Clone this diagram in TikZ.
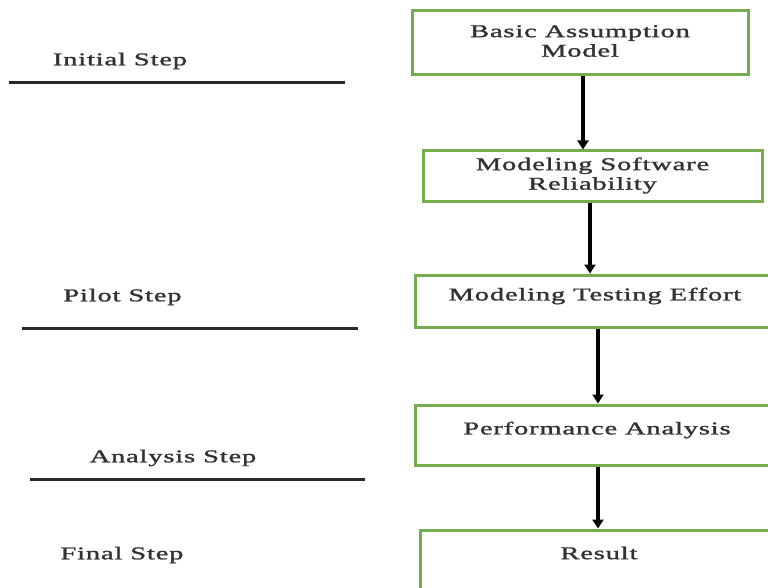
\documentclass[tikz,border=0pt]{standalone}
\usepackage{fontspec}
\usepackage{graphicx}
\setmainfont{Liberation Serif}[LetterSpace=3,FakeBold=1.2]
\usetikzlibrary{arrows.meta}
\definecolor{boxgreen}{RGB}{118,172,80}
\definecolor{txt}{RGB}{50,50,50}
\definecolor{rulecol}{RGB}{40,40,40}
\newcommand\wtext[1]{\scalebox{1.58}[1]{#1}}
\begin{document}
\begin{tikzpicture}[x=1pt,y=-1pt,
  box/.style={draw=boxgreen,line width=3pt,fill=white,inner sep=0pt},
  lbl/.style={text=txt,font=\fontsize{18}{19.5}\selectfont,align=center,inner sep=0pt},
  arr/.style={line width=3.6pt,-{Triangle[length=9pt,width=11pt]}},
  rulel/.style={line width=3pt,draw=rulecol}]
\useasboundingbox (0,0) rectangle (768,588);
\clip (0,0) rectangle (768,588);
\fill[white] (0,0) rectangle (768,588);
% boxes
\node[box,minimum width=336pt,minimum height=64pt] (b1) at (580,43) {};
\node[box,minimum width=339pt,minimum height=51pt] (b2) at (592.5,176.5) {};
\node[box,minimum width=365pt,minimum height=52pt] (b3) at (597.5,301) {};
\node[box,minimum width=365pt,minimum height=60pt] (b4) at (597.5,435) {};
\node[box,minimum width=360pt,minimum height=70pt] (b5) at (600,565) {};
% box texts
\node[lbl] (t1) at (580,43) {\wtext{\begin{tabular}{@{}c@{}}Basic Assumption\\Model\end{tabular}}};
\node[lbl] (t2) at (592.5,176) {\wtext{\begin{tabular}{@{}c@{}}Modeling Software\\Reliability\end{tabular}}};
\node[lbl] (t3) at (595,296) {\wtext{Modeling Testing Effort}};
\node[lbl] (t4) at (597,430) {\wtext{Performance Analysis}};
\node[lbl] (t5) at (599,553) {\wtext{Result}};
% arrows
\coordinate (xa) at (583,0);
\coordinate (xb) at (590,0);
\coordinate (xc) at (598,0);
\draw[arr] (b1.south -| xa) -- (b2.north -| xa);
\draw[arr] (b2.south -| xb) -- (b3.north -| xb);
\draw[arr] (b3.south -| xc) -- (b4.north -| xc);
\draw[arr] (b4.south -| xc) -- (b5.north -| xc);
% left step labels and rules
\node[lbl] (s1) at (120,61) {\wtext{Initial Step}};
\node[lbl] (s2) at (122.5,297) {\wtext{Pilot Step}};
\node[lbl] (s3) at (173,458) {\wtext{Analysis Step}};
\node[lbl] (s4) at (122,555) {\wtext{Final Step}};
\coordinate (r1a) at (9,83);
\coordinate (r1b) at (345,83);
\coordinate (r2a) at (22,328);
\coordinate (r2b) at (358,328);
\coordinate (r3a) at (30,479);
\coordinate (r3b) at (365,479);
\draw[rulel] (r1a) -- (r1b);
\draw[rulel] (r2a) -- (r2b);
\draw[rulel] (r3a) -- (r3b);
\end{tikzpicture}
\end{document}
